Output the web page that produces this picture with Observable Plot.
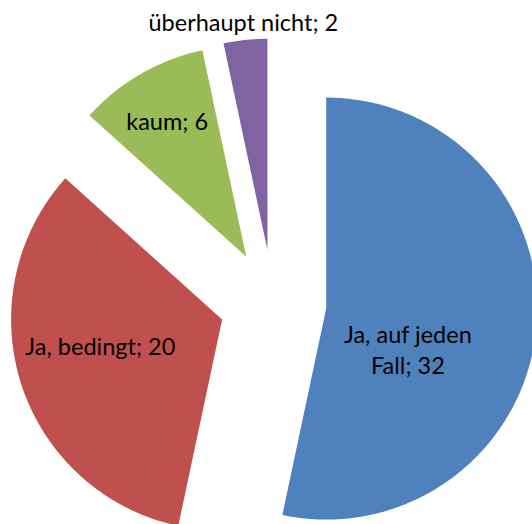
<!DOCTYPE html>
<html>
<head>
<meta charset="utf-8">
<script src="https://cdn.jsdelivr.net/npm/d3@7"></script>
<script src="https://cdn.jsdelivr.net/npm/@observablehq/plot@0.6"></script>
<style>
  html, body { margin: 0; padding: 0; background: #fff; }
  #chart svg { display: block; }
</style>
</head>
<body>
<div id="chart"></div>
<script>
// ---- data ----
const categories = ["Ja, auf jeden Fall", "Ja, bedingt", "kaum", "überhaupt nicht"];
const values = [32, 20, 6, 2];
const labelTexts = ["Ja, auf jeden\nFall; 32", "Ja, bedingt; 20", "kaum; 6", "überhaupt nicht; 2"];

// ---- layout ----
const W = 532, H = 524;
const cx = 272.5, cy = 302.5;     // pie centre in pixels
const R = 211;                    // radius
const explode = 53.5;             // explosion distance
const labelShift = [19.8, 6, 0, 0];          // degrees offset from mid angle
const labelDist = [0.43, 0.59, 0.75, 1.09];  // fraction of radius from slice apex
const palette = ["#4F81BD", "#C0504D", "#9BBB59", "#8064A2"];

const arcs = d3.pie().sort(null).value(d => d)(values);
// y-up coordinates centred on pie centre; angle clockwise from 12 o'clock
const dir = a => [Math.sin(a), Math.cos(a)];

const polys = [];
const labels = [];
arcs.forEach((a, i) => {
  const mid = (a.startAngle + a.endAngle) / 2;
  const [ex, ey] = dir(mid);
  const ax = ex * explode, ay = ey * explode;
  polys.push({cat: categories[i], x: ax, y: ay});
  const n = Math.max(8, Math.ceil((a.endAngle - a.startAngle) / (Math.PI / 360)));
  for (let k = 0; k <= n; k++) {
    const t = a.startAngle + (a.endAngle - a.startAngle) * k / n;
    const [dx, dy] = dir(t);
    polys.push({cat: categories[i], x: ax + R * dx, y: ay + R * dy});
  }
  polys.push({cat: categories[i], x: ax, y: ay});
  const la = mid + labelShift[i] * Math.PI / 180;
  const [lx, ly] = dir(la);
  labels.push({text: labelTexts[i], x: ax + lx * R * labelDist[i], y: ay + ly * R * labelDist[i]});
});

const chart = Plot.plot({
  width: W,
  height: H,
  margin: 0,
  x: {domain: [-cx, W - cx], axis: null},
  y: {domain: [-(H - cy), cy], axis: null},
  color: {domain: categories, range: palette},
  style: {fontFamily: "Lato, 'Open Sans', sans-serif", background: "#fff"},
  marks: [
    Plot.line(polys, {x: "x", y: "y", z: "cat", fill: "cat", stroke: null, strokeWidth: 0}),
    Plot.text(labels, {x: "x", y: "y", text: "text", fontSize: 23.5, fill: "#000", lineHeight: 1.32, textAnchor: "middle"})
  ]
});
document.getElementById("chart").appendChild(chart);
</script>
</body>
</html>
